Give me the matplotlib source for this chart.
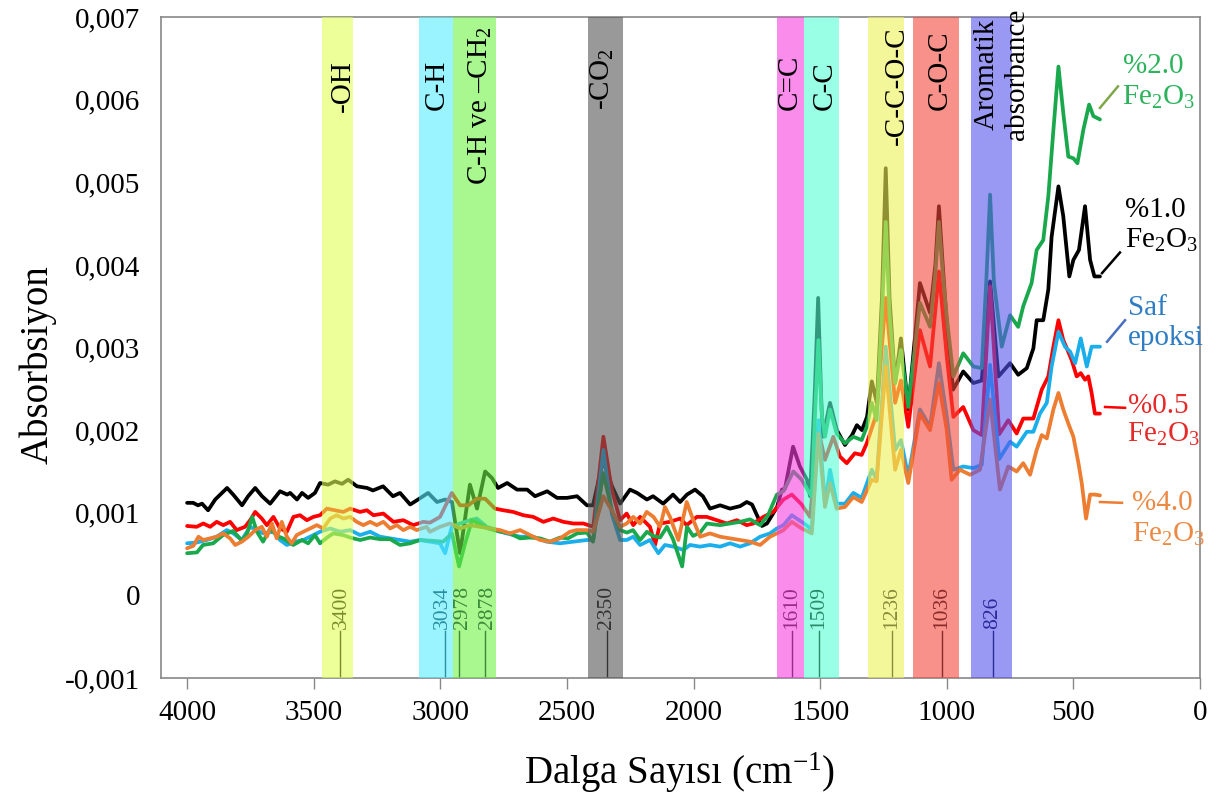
import matplotlib.pyplot as plt
import numpy as np

plt.rcParams['font.family'] = ['Liberation Serif', 'DejaVu Serif']
plt.rcParams['mathtext.fontset'] = 'custom'
plt.rcParams['mathtext.rm'] = 'Liberation Serif'
plt.rcParams['mathtext.it'] = 'Liberation Serif:italic'

# absorbance values in units of 1e-3 (wavenumber, value)
black = [(4000, 1.12), (3976, 1.12), (3957, 1.09), (3941, 1.11), (3917, 1.03), (3889, 1.16), (3842, 1.30),
         (3818, 1.22), (3783, 1.09), (3759, 1.20), (3731, 1.30), (3704, 1.20), (3672, 1.11), (3633, 1.26),
         (3605, 1.22), (3593, 1.24), (3566, 1.16), (3546, 1.24), (3522, 1.18), (3495, 1.24), (3475, 1.36),
         (3443, 1.34), (3416, 1.38), (3388, 1.35), (3364, 1.40), (3329, 1.32), (3289, 1.30), (3266, 1.27),
         (3226, 1.32), (3187, 1.20), (3159, 1.24), (3119, 1.10), (3088, 1.16), (3048, 1.24), (3013, 1.13),
         (2981, 1.16), (2954, 1.13), (2922, 0.51), (2883, 1.34), (2855, 1.05), (2823, 1.50), (2796, 1.42),
         (2772, 1.30), (2736, 1.36), (2697, 1.28), (2657, 1.28), (2626, 1.20), (2578, 1.26), (2539, 1.18),
         (2500, 1.18), (2460, 1.20), (2421, 1.09), (2397, 1.09), (2357, 1.64), (2322, 1.32), (2290, 1.11),
         (2251, 1.28), (2223, 1.24), (2184, 1.16), (2160, 1.20), (2120, 1.11), (2081, 1.22), (2053, 1.13),
         (2026, 1.22), (1994, 1.28), (1963, 1.20), (1935, 1.05), (1895, 1.09), (1856, 1.05), (1816, 1.08),
         (1790, 1.13), (1769, 1.10), (1730, 0.84), (1710, 0.87), (1670, 1.07), (1651, 1.28), (1639, 1.29),
         (1607, 1.80), (1580, 1.56), (1552, 1.40), (1540, 1.20), (1522, 2.40), (1508, 3.60), (1496, 2.40),
         (1489, 1.92), (1461, 2.33), (1434, 2.00), (1402, 1.82), (1374, 1.94), (1355, 2.06), (1335, 2.00),
         (1315, 2.16), (1296, 2.59), (1276, 2.33), (1256, 3.60), (1241, 5.17), (1226, 3.60), (1204, 2.57),
         (1181, 3.11), (1152, 2.25), (1106, 3.78), (1066, 3.42), (1045, 4.00), (1031, 4.71), (1016, 4.00),
         (1000, 3.29), (975, 2.49), (935, 2.71), (895, 2.57), (862, 2.60), (829, 3.80), (796, 2.65),
         (750, 2.81), (718, 2.67), (684, 2.75), (658, 2.99), (645, 3.33), (619, 3.33), (599, 3.70),
         (586, 4.34), (559, 4.95), (540, 4.59), (516, 3.86), (500, 4.06), (478, 4.18), (454, 4.71),
         (434, 4.06), (417, 3.86), (395, 3.86)]

green = [(4000, 0.51), (3961, 0.52), (3937, 0.61), (3897, 0.63), (3858, 0.73), (3818, 0.78), (3783, 0.66),
         (3763, 0.75), (3743, 0.95), (3724, 0.77), (3700, 0.65), (3672, 0.81), (3645, 0.72), (3621, 0.69),
         (3581, 0.61), (3546, 0.67), (3522, 0.63), (3495, 0.73), (3475, 0.63), (3447, 0.70), (3423, 0.75),
         (3384, 0.73), (3356, 0.70), (3317, 0.67), (3277, 0.70), (3238, 0.68), (3198, 0.68), (3159, 0.61),
         (3119, 0.63), (3080, 0.67), (3029, 0.66), (2989, 0.65), (2954, 0.75), (2926, 0.35), (2902, 0.63),
         (2875, 0.91), (2843, 0.86), (2811, 0.81), (2764, 0.77), (2725, 0.75), (2685, 0.69), (2646, 0.70),
         (2606, 0.69), (2567, 0.65), (2527, 0.70), (2496, 0.69), (2460, 0.75), (2421, 0.76), (2397, 0.65),
         (2357, 1.48), (2322, 1.03), (2290, 0.79), (2263, 0.76), (2239, 0.79), (2211, 0.67), (2184, 0.77),
         (2160, 0.72), (2132, 0.70), (2105, 0.83), (2081, 0.68), (2045, 0.35), (2026, 0.83), (2002, 0.72),
         (1974, 0.76), (1947, 0.87), (1923, 0.86), (1895, 0.85), (1856, 0.87), (1816, 0.89), (1777, 0.92),
         (1737, 0.85), (1706, 0.97), (1671, 1.22), (1645, 1.26), (1606, 1.50), (1573, 1.40), (1546, 1.26),
         (1533, 1.20), (1520, 2.20), (1507, 3.09), (1494, 2.20), (1481, 1.92), (1461, 2.25), (1435, 1.96),
         (1402, 1.84), (1369, 1.92), (1336, 1.88), (1316, 2.04), (1296, 2.33), (1277, 2.12), (1256, 3.40),
         (1241, 4.52), (1226, 3.40), (1204, 2.57), (1181, 2.97), (1152, 2.28), (1106, 3.54), (1066, 3.25),
         (1045, 3.90), (1031, 4.52), (1016, 3.90), (1000, 3.37), (974, 2.65), (935, 2.93), (895, 2.77),
         (862, 2.75), (844, 3.80), (829, 4.85), (814, 3.80), (783, 3.01), (750, 3.39), (718, 3.25),
         (698, 3.50), (665, 3.78), (645, 4.18), (619, 4.30), (599, 4.83), (579, 5.63), (559, 6.40),
         (540, 5.84), (520, 5.31), (500, 5.29), (484, 5.23), (461, 5.63), (438, 5.94), (421, 5.80), (395, 5.76)]

red = [(4000, 0.84), (3962, 0.83), (3936, 0.87), (3909, 0.83), (3883, 0.89), (3857, 0.85), (3830, 0.89),
       (3804, 0.79), (3771, 0.83), (3751, 0.91), (3731, 1.01), (3705, 0.93), (3685, 0.85), (3659, 0.95),
       (3633, 0.81), (3606, 0.77), (3580, 0.95), (3554, 0.97), (3527, 0.91), (3501, 0.95), (3475, 0.97),
       (3448, 1.05), (3416, 1.03), (3383, 1.01), (3356, 1.05), (3317, 1.01), (3290, 1.03), (3264, 0.97),
       (3225, 0.99), (3185, 0.89), (3146, 0.91), (3107, 0.85), (3067, 0.89), (3041, 0.88), (3001, 0.95),
       (2955, 1.24), (2922, 1.09), (2889, 1.09), (2856, 1.17), (2823, 1.17), (2784, 1.05), (2751, 1.03),
       (2712, 1.01), (2672, 0.97), (2633, 0.95), (2593, 0.89), (2554, 0.93), (2514, 0.89), (2475, 0.87),
       (2435, 0.87), (2396, 0.83), (2356, 1.92), (2323, 1.28), (2290, 0.91), (2264, 0.99), (2238, 0.85),
       (2211, 0.95), (2172, 0.83), (2152, 0.61), (2132, 0.87), (2093, 0.89), (2053, 0.93), (2027, 0.85),
       (1987, 0.95), (1948, 0.95), (1908, 0.91), (1869, 0.87), (1829, 0.91), (1790, 0.85), (1764, 0.87),
       (1724, 0.95), (1685, 1.01), (1645, 1.16), (1612, 1.22), (1573, 1.10), (1540, 0.95), (1507, 2.00),
       (1481, 1.64), (1448, 1.92), (1422, 1.68), (1395, 1.60), (1363, 1.72), (1336, 1.70), (1316, 1.84),
       (1277, 2.20), (1241, 3.60), (1204, 2.33), (1181, 2.60), (1152, 2.04), (1106, 3.21), (1066, 2.77),
       (1031, 3.92), (1000, 2.89), (974, 2.16), (935, 2.28), (895, 2.00), (862, 1.94), (829, 3.74),
       (793, 1.95), (757, 2.12), (724, 1.96), (698, 2.14), (658, 2.14), (625, 2.49), (599, 2.65),
       (579, 3.01), (559, 3.33), (540, 3.09), (526, 2.99), (507, 2.85), (487, 2.65), (471, 2.69),
       (454, 2.61), (441, 2.65), (428, 2.45), (415, 2.20), (395, 2.20)]

saf = [(4000, 0.63), (3962, 0.64), (3922, 0.67), (3883, 0.71), (3843, 0.79), (3817, 0.75), (3784, 0.67),
       (3751, 0.83), (3725, 0.79), (3699, 0.75), (3659, 0.77), (3633, 0.67), (3606, 0.61), (3573, 0.65),
       (3541, 0.67), (3501, 0.73), (3475, 0.77), (3435, 0.81), (3396, 0.77), (3356, 0.79), (3317, 0.73),
       (3277, 0.77), (3238, 0.71), (3198, 0.69), (3159, 0.67), (3119, 0.65), (3080, 0.67), (3041, 0.65),
       (3001, 0.63), (2981, 0.51), (2955, 0.83), (2922, 0.87), (2883, 0.91), (2856, 0.93), (2817, 0.83),
       (2777, 0.79), (2738, 0.75), (2685, 0.71), (2633, 0.71), (2580, 0.65), (2527, 0.63), (2475, 0.65),
       (2422, 0.67), (2396, 0.67), (2356, 1.76), (2323, 0.99), (2290, 0.67), (2264, 0.67), (2238, 0.71),
       (2211, 0.61), (2172, 0.67), (2139, 0.51), (2113, 0.61), (2080, 0.59), (2040, 0.55), (2014, 0.61),
       (1974, 0.59), (1935, 0.61), (1895, 0.59), (1856, 0.63), (1816, 0.59), (1777, 0.63), (1737, 0.71),
       (1698, 0.75), (1671, 0.81), (1645, 0.85), (1612, 0.97), (1573, 0.89), (1546, 0.83), (1533, 0.79),
       (1507, 2.12), (1481, 1.11), (1461, 1.52), (1435, 1.11), (1402, 1.11), (1369, 1.24), (1336, 1.18),
       (1296, 1.52), (1277, 1.40), (1241, 3.01), (1204, 1.76), (1181, 1.88), (1152, 1.44), (1106, 2.25),
       (1066, 2.04), (1031, 2.81), (1000, 2.16), (974, 1.52), (935, 1.56), (895, 1.54), (862, 1.58),
       (829, 2.79), (793, 1.65), (750, 1.86), (724, 1.80), (684, 1.98), (658, 1.98), (632, 2.20),
       (605, 2.33), (586, 2.77), (559, 3.19), (533, 3.01), (513, 2.95), (493, 2.81), (471, 3.11),
       (447, 2.77), (428, 3.01), (395, 3.01)]

pct4 = [(4000, 0.57), (3975, 0.60), (3955, 0.71), (3936, 0.67), (3909, 0.69), (3883, 0.71), (3857, 0.75),
        (3830, 0.69), (3810, 0.61), (3784, 0.65), (3758, 0.71), (3731, 0.79), (3705, 0.83), (3685, 0.71),
        (3665, 0.87), (3646, 0.69), (3626, 0.89), (3606, 0.71), (3587, 0.63), (3567, 0.73), (3541, 0.77),
        (3514, 0.81), (3488, 0.85), (3462, 0.81), (3435, 0.93), (3409, 0.97), (3383, 0.93), (3356, 0.95),
        (3330, 0.89), (3304, 0.85), (3277, 0.89), (3251, 0.85), (3225, 0.89), (3198, 0.81), (3172, 0.85),
        (3146, 0.79), (3119, 0.83), (3093, 0.79), (3054, 0.83), (3041, 0.77), (3001, 0.83), (2962, 0.87),
        (2922, 0.81), (2883, 0.85), (2843, 0.83), (2804, 0.81), (2764, 0.79), (2725, 0.75), (2685, 0.79),
        (2646, 0.73), (2606, 0.67), (2567, 0.65), (2527, 0.69), (2488, 0.77), (2462, 0.79), (2422, 0.79),
        (2396, 0.77), (2356, 1.20), (2323, 1.03), (2290, 0.83), (2264, 0.87), (2238, 0.95), (2211, 0.87),
        (2185, 1.01), (2158, 0.95), (2132, 0.83), (2113, 1.07), (2093, 0.95), (2060, 0.67), (2027, 1.13),
        (2001, 0.91), (1974, 0.71), (1935, 0.75), (1895, 0.71), (1856, 0.69), (1816, 0.67), (1777, 0.65),
        (1737, 0.61), (1698, 0.71), (1671, 0.75), (1645, 0.79), (1612, 0.89), (1573, 0.81), (1546, 0.77),
        (1533, 0.75), (1507, 1.96), (1481, 1.07), (1461, 1.36), (1435, 1.05), (1402, 1.07), (1369, 1.19),
        (1336, 1.13), (1296, 1.40), (1277, 1.38), (1241, 2.77), (1204, 1.52), (1181, 1.76), (1152, 1.36),
        (1106, 2.20), (1066, 2.00), (1031, 2.57), (1000, 2.00), (981, 1.40), (948, 1.52), (908, 1.46),
        (869, 1.52), (829, 2.37), (790, 1.28), (757, 1.56), (724, 1.50), (698, 1.60), (671, 1.46),
        (645, 1.76), (625, 1.94), (605, 1.90), (579, 2.25), (559, 2.45), (540, 2.25), (520, 2.08),
        (500, 1.92), (480, 1.60), (467, 1.36), (450, 0.93), (434, 1.22), (415, 1.22), (395, 1.21)]

series = [black, red, saf, green, pct4]
series_colors = ['#000000', '#FF0000', '#1AAEEA', '#1AA84C', '#ED7D31']

# shaded regions: (from, to, colour), label text and where it sits
bands = [(3467, 3345, '#E0FF55'), (3084, 2950, '#55EEFF'), (2950, 2780, '#6EF245'),
         (2417, 2278, '#555555'), (1670, 1564, '#F740DE'), (1564, 1425, '#55FFD4'),
         (1311, 1169, '#EEF255'), (1133, 952, '#F2483B'), (904, 742, '#5555EE')]
band_labels = ['-OH', 'C-H', 'C-H ve –CH$_2$', '-CO$_2$', 'C=C', 'C-C', '-C-C-O-C', 'C-O-C',
               'Aromatik', 'absorbance']
band_label_x = [3384, 3013, 2843, 2361, 1619, 1481, 1196, 1027, 841, 723]
band_label_y = [5.85, 5.88, 4.97, 5.88, 5.88, 5.88, 5.45, 5.88, 5.63, 5.51]

peak_text = ['3400', '3034', '2978', '2878', '2350', '1610', '1509', '1236', '1036', '826']
peak_x = [3396, 2981, 2926, 2823, 2342, 1611, 1504, 1216, 1019, 817]
peak_text_x = [3390, 2993, 2914, 2815, 2342, 1611, 1504, 1216, 1019, 817]
peak_colors = ['#7A8A2A', '#2A8FA0', '#3A8A3A', '#3A8A3A', '#333333', '#9A2A8A', '#2A8A6A',
               '#8A8A3A', '#8A2A2A', '#2A2A9A']

legend_lines = [('%2.0', 'Fe$_2$O$_3$', '#2DB35C', 304, 6.32, 308, 5.94, (395, 324), (5.90, 6.16), '#7EA848'),
                ('%1.0', 'Fe$_2$O$_3$', '#000000', 296, 4.58, 296, 4.21, (387, 316), (3.90, 4.15), '#000000'),
                ('Saf', 'epoksi', '#2E7DC4', 284, 3.39, 284, 3.03, (367, 296), (3.07, 3.33), '#4A6FC0'),
                ('%0.5', 'Fe$_2$O$_3$', '#E52A2A', 284, 2.21, 288, 1.86, (375, 296), (2.28, 2.27), '#FF0000'),
                ('%4.0', 'Fe$_2$O$_3$', '#EC8A45', 269, 1.03, 269, 0.65, (395, 308), (1.13, 1.12), '#ED7D31')]

y_ticks = [-0.001, 0, 0.001, 0.002, 0.003, 0.004, 0.005, 0.006, 0.007]
y_labels = ['-0,001', '0', '0,001', '0,002', '0,003', '0,004', '0,005', '0,006', '0,007']
x_ticks = [4000, 3500, 3000, 2500, 2000, 1500, 1000, 500, 0]

fig = plt.figure(figsize=(12.2, 7.98), dpi=100)
ax = fig.add_axes([161 / 1220, 1 - 678 / 798, 1039 / 1220, 661 / 798])

for s, c in zip(series, series_colors):
    w = np.array([p[0] for p in s])
    v = np.array([p[1] for p in s]) * 1e-3
    ax.plot(w, v, color=c, lw=2.7, solid_joinstyle='round', solid_capstyle='round', zorder=2)

for a, b, c in bands:
    ax.axvspan(b, a, color=c, alpha=0.6, lw=0, zorder=3)

for t, x, y in zip(band_labels, band_label_x, band_label_y):
    ax.text(x, y * 1e-3, t, rotation=90, ha='center', va='bottom', fontsize=21, zorder=5)

for t, x, tx, c in zip(peak_text, peak_x, peak_text_x, peak_colors):
    ax.plot([x, x], [-0.00097, -0.00043], color=c, lw=1, zorder=4)
    ax.text(tx, -0.00041, t, rotation=90, ha='center', va='bottom', fontsize=15.5, color=c, zorder=5)

for t1, t2, tc, x1, y1, x2, y2, lx, ly, lc in legend_lines:
    ax.text(x1, y1 * 1e-3, t1, color=tc, fontsize=21, ha='left', va='baseline', zorder=5)
    ax.text(x2, y2 * 1e-3, t2, color=tc, fontsize=21, ha='left', va='baseline', zorder=5)
    ax.plot(lx, np.array(ly) * 1e-3, color=lc, lw=1.8, zorder=5)

ax.set_xlim(4103, 0)
ax.set_ylim(-0.001, 0.007)
ax.set_xticks(x_ticks)
ax.set_xticklabels([str(t) for t in x_ticks])
ax.set_yticks(y_ticks)
ax.set_yticklabels(y_labels)
ax.tick_params(axis='y', length=0, pad=15, labelsize=21)
ax.tick_params(axis='x', length=8, width=1, color='#888888', pad=8, labelsize=21, direction='out')
for sp in ax.spines.values():
    sp.set_color('#888888')
    sp.set_linewidth(1.2)

fig.text(38 / 1220, 1 - 365 / 798, 'Absorbsiyon', rotation=90, ha='center', va='center', fontsize=28)
fig.text(680 / 1220, 1 - 773 / 798, 'Dalga Sayısı (cm$^{-1}$)', ha='center', va='center', fontsize=28)

fig.savefig('out.png', dpi=100)
